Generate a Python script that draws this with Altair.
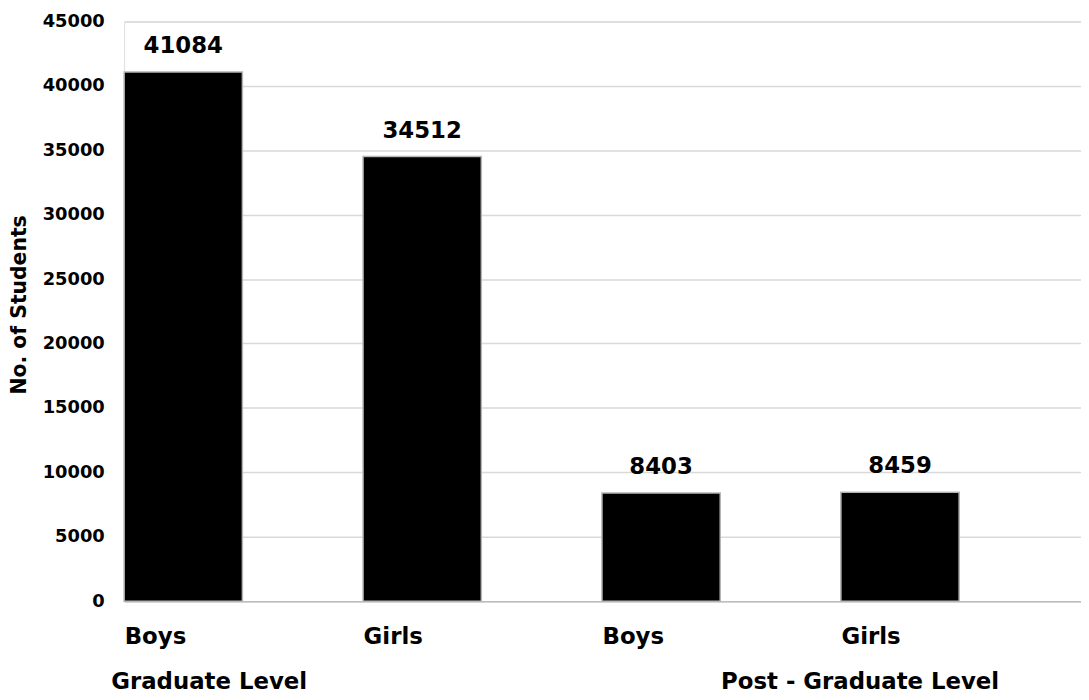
import altair as alt
import pandas as pd

# ---- data ----
levels = ["Graduate Level", "Graduate Level", "Post - Graduate Level", "Post - Graduate Level"]
genders = ["Boys", "Girls", "Boys", "Girls"]
students = [41084, 34512, 8403, 8459]
y_ticks = [0, 5000, 10000, 15000, 20000, 25000, 30000, 35000, 40000, 45000]
group_names = ["Graduate Level", "Post - Graduate Level"]

keys = [f"{l}|{g}" for l, g in zip(levels, genders)]
df = pd.DataFrame({"key": keys, "level": levels, "gender": genders, "students": students})

FONT = "DejaVu Sans"
W, H = 964, 584

xscale = alt.Scale(domain=keys, paddingInner=0.505, paddingOuter=0.255, align=0)
yscale = alt.Scale(domain=[0, 45000], nice=False, zero=True)

x_axis = alt.Axis(
    title=None,
    labelExpr="split(datum.label, '|')[1]",
    labelAlign="left",
    labelOffset=-59,
    labelAngle=0,
    ticks=False,
    domain=True,
    domainColor="#bdbdbd",
    domainWidth=1.5,
    grid=False,
    labelFont=FONT,
    labelFontWeight="bold",
    labelFontSize=23,
    labelColor="black",
    labelPadding=25,
)
y_axis = alt.Axis(
    title="No. of Students",
    values=y_ticks,
    format="d",
    domain=False,
    ticks=False,
    grid=True,
    gridColor="#d9d9d9",
    gridWidth=1.5,
    labelFont=FONT,
    labelFontWeight="bold",
    labelFontSize=18,
    labelColor="black",
    labelPadding=20,
    titleFont=FONT,
    titleFontWeight="bold",
    titleFontSize=20.5,
    titleColor="black",
    titleX=-105,
    titleY=285,
    titleAngle=270,
    titleAlign="center",
    titleBaseline="middle",
)

base = alt.Chart(df)

bars = base.mark_bar(color="black", stroke="#b5b5b5", strokeWidth=1.5).encode(
    x=alt.X("key:N", scale=xscale, sort=keys, axis=x_axis),
    y=alt.Y("students:Q", scale=yscale, axis=y_axis),
)

values = base.mark_text(
    font=FONT, fontWeight="bold", fontSize=23, baseline="alphabetic", dy=-19, color="black"
).encode(
    x=alt.X("key:N", scale=xscale, sort=keys),
    y=alt.Y("students:Q", scale=yscale),
    text=alt.Text("students:Q", format="d"),
)

g1 = alt.Chart(pd.DataFrame({"key": [keys[0]], "name": [group_names[0]]})).mark_text(
    font=FONT, fontWeight="bold", fontSize=23, align="left", baseline="alphabetic", dx=-13, color="black"
).encode(
    x=alt.X("key:N", scale=xscale, sort=keys, bandPosition=0),
    y=alt.value(673),
    text="name:N",
)
g2 = alt.Chart(pd.DataFrame({"key": [keys[2]], "name": [group_names[1]]})).mark_text(
    font=FONT, fontWeight="bold", fontSize=23, align="left", baseline="alphabetic", dx=120, color="black"
).encode(
    x=alt.X("key:N", scale=xscale, sort=keys, bandPosition=0),
    y=alt.value(673),
    text="name:N",
)

chart = alt.layer(bars, values, g1, g2).properties(
    width=W,
    height=H,
    autosize=alt.AutoSizeParams(type="none"),
    padding={"left": 117, "top": 11, "right": 0, "bottom": 96},
).configure_view(stroke=None).configure(background="white")

chart.save("out.html", embed_options={"renderer": "svg", "actions": False})
